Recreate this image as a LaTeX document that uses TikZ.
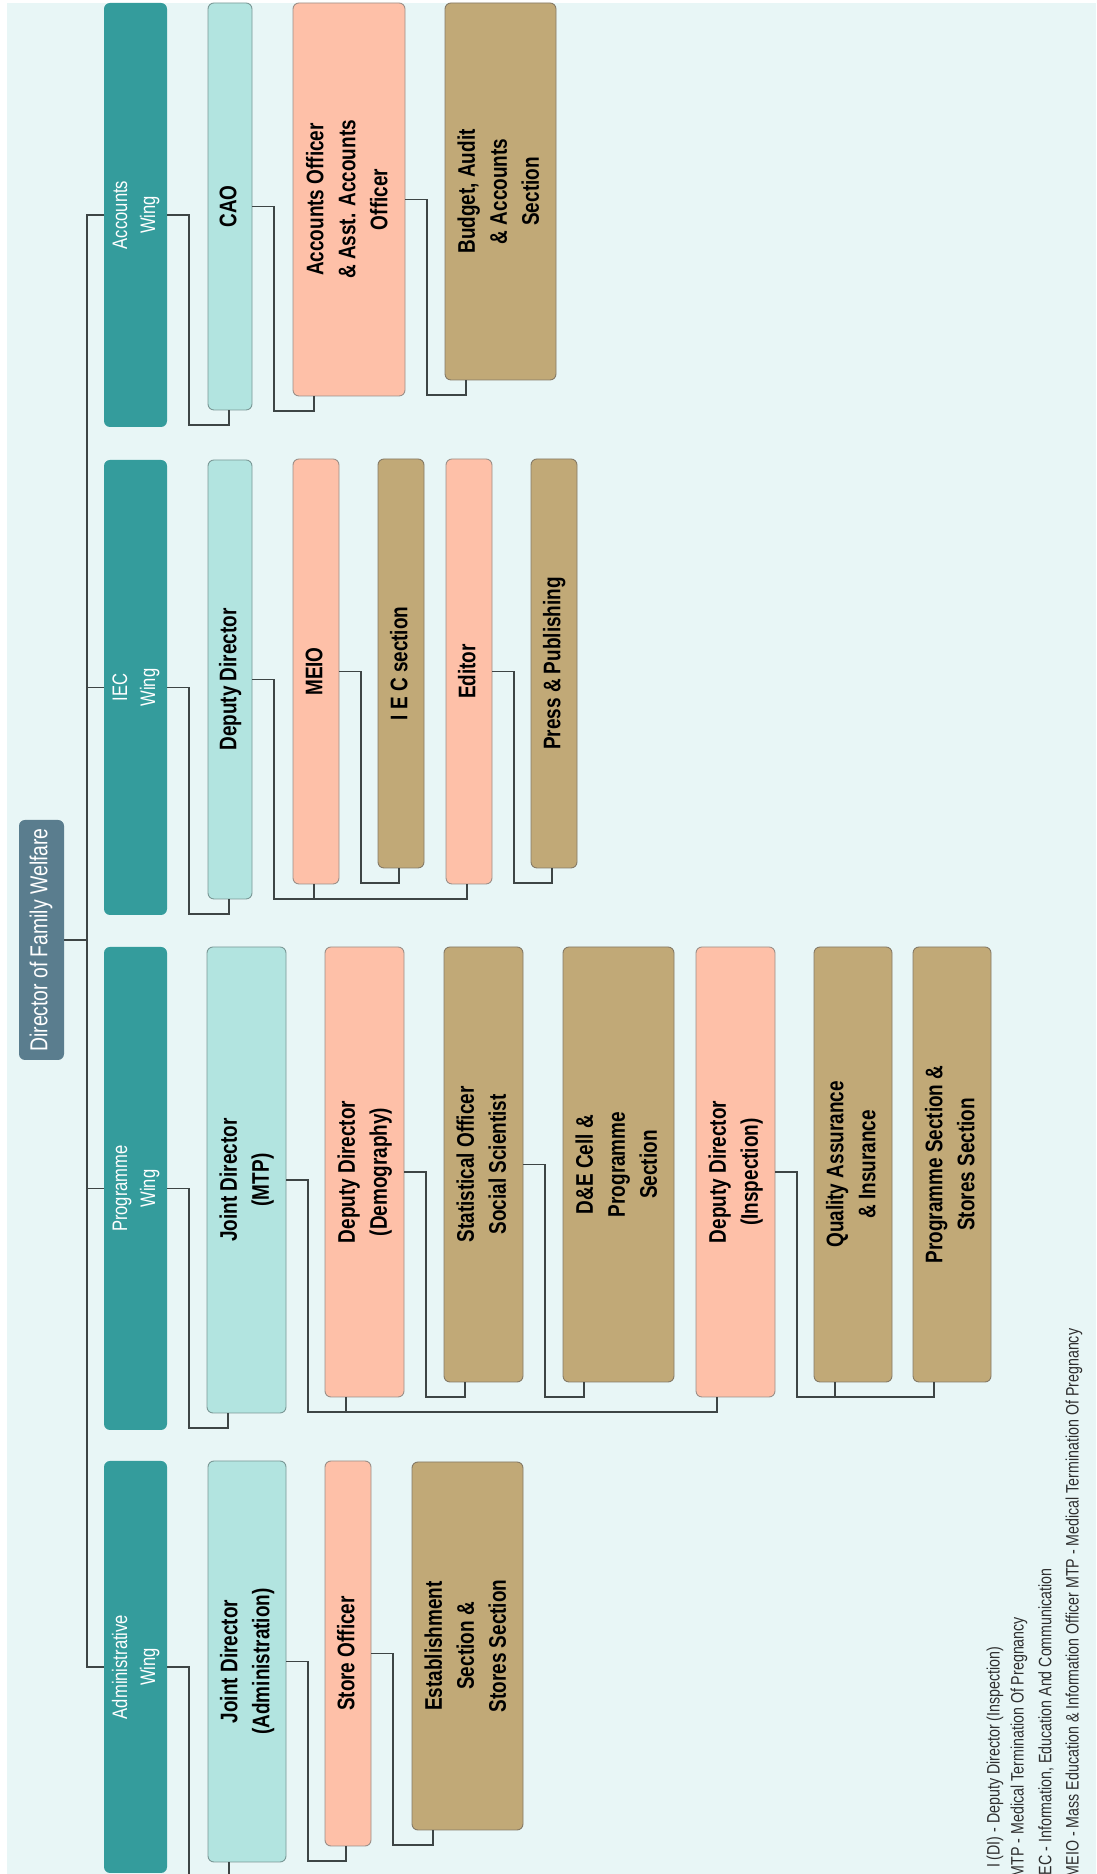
\documentclass[tikz,border=0pt]{standalone}
\usepackage{fontspec}
\setmainfont{Liberation Sans}[FakeStretch=0.79]
\definecolor{bgcol}{HTML}{E8F6F6}
\definecolor{dircol}{HTML}{5A7D8E}
\definecolor{wingcol}{HTML}{349C9C}
\definecolor{lvtwo}{HTML}{B2E4E0}
\definecolor{lvtwoline}{HTML}{7A9896}
\definecolor{salmon}{HTML}{FEC0A8}
\definecolor{salmonline}{HTML}{9C8F88}
\definecolor{tan}{HTML}{C1A977}
\definecolor{tanline}{HTML}{857A66}
\definecolor{linecol}{HTML}{3D4545}
\definecolor{legendcol}{HTML}{2E2E2E}
\newcommand\orgbox[7]{%
  \node[#2, minimum width={(#5)-(#3)}, minimum height={(#6)-(#4)}] (#1)
    at ({((#3)+(#5))/2},{1874-((#4)+(#6))/2})
    {\rotatebox{90}{\begin{tabular}{@{}c@{}}#7\end{tabular}}};}
\newcommand\orglink[2]{%
  \draw[conn] (#1.east) -- ++(22,0) |- ([shift={(21,-15)}]#2.south west)
    -- ([xshift=21pt]#2.south west);}
\begin{document}
\begin{tikzpicture}[x=1pt,y=1pt,
  basebox/.style={rectangle, rounded corners=6pt, inner sep=0pt, outer sep=0pt, line width=0.9pt},
  dirbox/.style={basebox, fill=dircol, text=white, font=\fontsize{24.5}{30}\selectfont},
  wingbox/.style={basebox, fill=wingcol, text=white, font=\fontsize{21}{28}\selectfont},
  lvtwobox/.style={basebox, fill=lvtwo, draw=lvtwoline, text=black, font=\fontsize{24}{32}\selectfont\bfseries},
  salmonbox/.style={basebox, fill=salmon, draw=salmonline, text=black, font=\fontsize{24}{32}\selectfont\bfseries},
  tanbox/.style={basebox, fill=tan, draw=tanline, text=black, font=\fontsize{24}{32}\selectfont\bfseries},
  conn/.style={draw=linecol, line width=1.4pt},
  legend/.style={inner sep=0pt, outer sep=0pt, text=legendcol, font=\fontsize{18}{22}\selectfont, rotate=90, anchor=west}]
\useasboundingbox (0,0) rectangle (1096,1874);
\clip (0,0) rectangle (1096,1874);
\fill[white] (0,0) rectangle (1096,1874);
\fill[bgcol] (7,0) rectangle (1096,1871);

% director
\orgbox{dir}{dirbox}{19}{820}{64}{1060}{Director of Family Welfare}
% wings
\orgbox{accw}{wingbox}{104}{3}{167}{427}{Accounts\\Wing}
\orgbox{iecw}{wingbox}{104}{460}{167}{915}{IEC\\Wing}
\orgbox{prgw}{wingbox}{104}{947}{167}{1430}{Programme\\Wing}
\orgbox{admw}{wingbox}{104}{1461}{167}{1873}{Administrative\\Wing}
% level two
\orgbox{cao}{lvtwobox}{208}{3}{252}{410}{CAO}
\orgbox{ddiec}{lvtwobox}{208}{460}{252}{899}{Deputy Director}
\orgbox{jdmtp}{lvtwobox}{207}{947}{286}{1413}{Joint Director\\(MTP)}
\orgbox{jdadm}{lvtwobox}{208}{1461}{286}{1862}{Joint Director\\(Administration)}
% salmon officers
\orgbox{ao}{salmonbox}{293}{3}{405}{396}{Accounts Officer\\\& Asst. Accounts\\Officer}
\orgbox{meio}{salmonbox}{293}{459}{339}{884}{MEIO}
\orgbox{editor}{salmonbox}{446}{459}{492}{884}{Editor}
\orgbox{dddem}{salmonbox}{325}{947}{404}{1397}{Deputy Director\\(Demography)}
\orgbox{ddins}{salmonbox}{696}{947}{775}{1397}{Deputy Director\\(Inspection)}
\orgbox{stoff}{salmonbox}{325}{1461}{371}{1846}{Store Officer}
% tan sections
\orgbox{budget}{tanbox}{445}{3}{556}{380}{Budget, Audit\\\& Accounts\\Section}
\orgbox{iecsec}{tanbox}{378}{459}{424}{868}{I E C section}
\orgbox{press}{tanbox}{531}{459}{577}{868}{Press \& Publishing}
\orgbox{statoff}{tanbox}{444}{947}{523}{1382}{Statistical Officer\\Social Scientist}
\orgbox{decell}{tanbox}{563}{947}{674}{1382}{D\&E Cell \&\\Programme\\Section}
\orgbox{qa}{tanbox}{814}{947}{892}{1382}{Quality Assurance\\\& Insurance}
\orgbox{progsec}{tanbox}{913}{947}{991}{1382}{Programme Section \&\\Stores Section}
\orgbox{estab}{tanbox}{412}{1462}{523}{1830}{Establishment\\Section \&\\Stores Section}

% trunk
\draw[conn] (accw.west) -- ++(-17,0) |- (admw.west);
\draw[conn] (iecw.west) -- ++(-17,0);
\draw[conn] (prgw.west) -- ++(-17,0);
\draw[conn] (dir.east) -- ++(23,0);

% links
\orglink{accw}{cao}
\orglink{cao}{ao}
\orglink{ao}{budget}
\orglink{iecw}{ddiec}
\orglink{ddiec}{meio}
\orglink{ddiec}{editor}
\orglink{meio}{iecsec}
\orglink{editor}{press}
\orglink{prgw}{jdmtp}
\orglink{jdmtp}{dddem}
\orglink{jdmtp}{ddins}
\orglink{dddem}{statoff}
\orglink{statoff}{decell}
\orglink{ddins}{qa}
\orglink{ddins}{progsec}
\orglink{admw}{jdadm}
\orglink{jdadm}{stoff}
\orglink{stoff}{estab}

% legend
\node[legend] (lgone) at (995,6) {I (DI) - Deputy Director (Inspection)};
\node[legend] (lgtwo) at (1019,-3) {MTP - Medical Termination Of Pregnancy};
\node[legend] (lgthree) at (1046,-5) {IEC - Information, Education And Communication};
\node[legend] (lgfour) at (1074,-3) {MEIO - Mass Education \& Information Officer MTP - Medical Termination Of Pregnancy};
\end{tikzpicture}
\end{document}
